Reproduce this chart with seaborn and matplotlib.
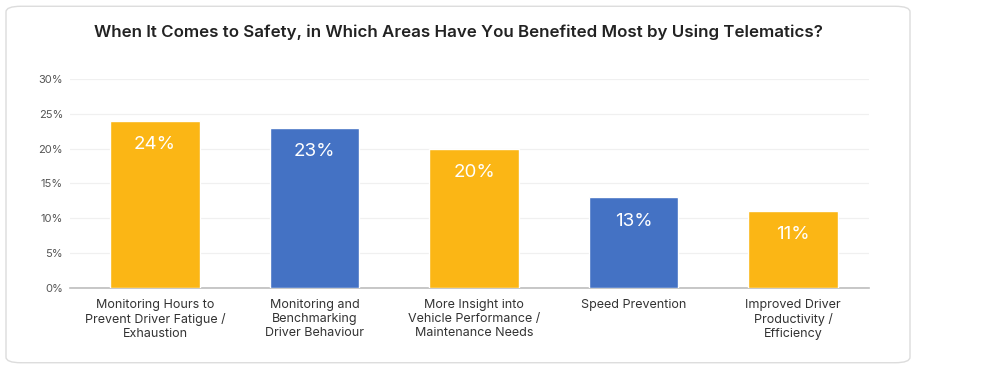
import matplotlib
matplotlib.use("Agg")
import numpy as np
import pandas as pd
import matplotlib.pyplot as plt
import seaborn as sns
from matplotlib.patches import FancyBboxPatch
from matplotlib.ticker import PercentFormatter

# data
categories = ["Monitoring Hours to\nPrevent Driver Fatigue /\nExhaustion",
              "Monitoring and\nBenchmarking\nDriver Behaviour",
              "More Insight into\nVehicle Performance /\nMaintenance Needs",
              "Speed Prevention",
              "Improved Driver\nProductivity /\nEfficiency"]
values = [0.24, 0.23, 0.20, 0.13, 0.11]
bar_colors = ["#FBB615", "#4472C4", "#FBB615", "#4472C4", "#FBB615"]
title = "When It Comes to Safety, in Which Areas Have You Benefited Most by Using Telematics?"

sns.set_style("white")
plt.rcParams['font.family'] = ['Inter', 'DejaVu Sans']

df = pd.DataFrame({"area": categories, "share": values})

fig = plt.figure(figsize=(10, 3.69), dpi=100)

# rounded card behind the chart
card = FancyBboxPatch((0.006, 0.017), 0.904, 0.966, boxstyle="round,pad=0,rounding_size=0.015",
                      transform=fig.transFigure, facecolor="white", edgecolor="#dcdcdc",
                      linewidth=1.0, zorder=-5)
fig.patches.append(card)

ax = fig.add_axes([0.070, 0.2195, 0.799, 0.5665])
ax.set_zorder(2)
ax.patch.set_alpha(0)
sns.barplot(data=df, x="area", y="share", hue="area", palette=bar_colors,
            width=0.56, legend=False, ax=ax, saturation=1, zorder=3)

ax.set_xlim(-0.533, 4.476)
ax.set_ylim(0, 0.30)
ax.set_yticks(np.arange(0, 0.31, 0.05))
ax.yaxis.set_major_formatter(PercentFormatter(1.0, decimals=0))
ax.grid(axis="y", color="#f0f0f0", linewidth=0.9, zorder=0)
ax.set_axisbelow(True)
ax.set_xlabel("")
ax.set_ylabel("")
for s in ["top", "right", "left"]:
    ax.spines[s].set_visible(False)
ax.spines["bottom"].set_color("#bdbdbd")
ax.spines["bottom"].set_linewidth(1.2)
ax.tick_params(axis="y", length=0, labelsize=8, labelcolor="#555555", pad=5)
ax.tick_params(axis="x", length=0, labelsize=9, labelcolor="#333333", pad=8)
for lbl in ax.get_xticklabels():
    lbl.set_linespacing(1.2)

for i, v in enumerate(values):
    ax.annotate("%d%%" % round(v * 100), (i, v), xytext=(0, -17), textcoords="offset points",
                ha="center", va="center", color="white", fontsize=13.5)

fig.text(0.458, 0.913, title, ha="center", va="center", fontsize=12.2,
         fontweight="semibold", color="#222222")

fig.savefig("out.png", dpi=100)
